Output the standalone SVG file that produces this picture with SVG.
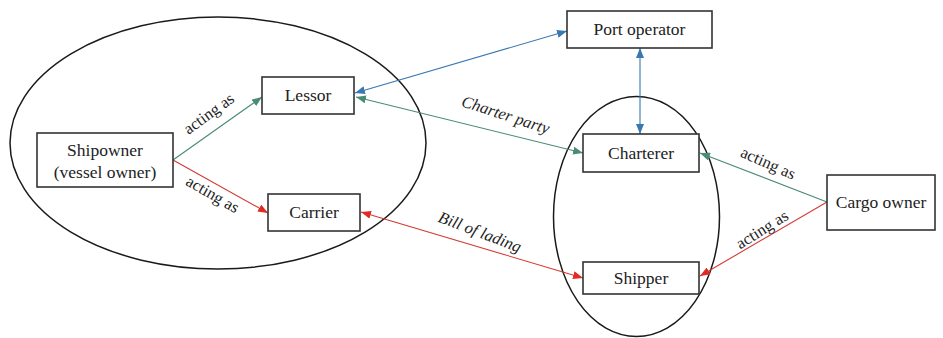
<svg xmlns="http://www.w3.org/2000/svg" width="943" height="338" viewBox="0 0 943 338">
<style>
.box{fill:#fff;stroke:#333;stroke-width:1.6}
.ell{fill:none;stroke:#1a1a1a;stroke-width:1.5}
text{font-family:'Liberation Serif','Times New Roman',Times,serif;fill:#222;text-anchor:middle}
.t{font-size:17.5px}
.l{font-size:16.5px}
.i{font-style:italic}
.g{stroke:#4a8a78;stroke-width:1.1;fill:none}
.b{stroke:#3a78b0;stroke-width:1.1;fill:none}
.r{stroke:#d63a33;stroke-width:1.1;fill:none}
</style>
<defs>
<marker id="ag" viewBox="0 0 10 8" refX="10" refY="4" markerWidth="10" markerHeight="8" markerUnits="userSpaceOnUse" orient="auto-start-reverse"><path d="M0,0L10,4L0,8z" fill="#4a8a78"/></marker>
<marker id="ab" viewBox="0 0 10 8" refX="10" refY="4" markerWidth="10" markerHeight="8" markerUnits="userSpaceOnUse" orient="auto-start-reverse"><path d="M0,0L10,4L0,8z" fill="#3a78b0"/></marker>
<marker id="ar" viewBox="0 0 10 8" refX="10" refY="4" markerWidth="10" markerHeight="8" markerUnits="userSpaceOnUse" orient="auto-start-reverse"><path d="M0,0L10,4L0,8z" fill="#e02a24"/></marker>
</defs>
<rect width="943" height="338" fill="#fff"/>
<g id="groups">
<ellipse class="ell" cx="218" cy="143" rx="208" ry="126"/>
<ellipse class="ell" cx="636.5" cy="216.5" rx="83" ry="120"/>
</g>
<g id="connectors">
<line class="g" x1="173" y1="160" x2="262" y2="97" marker-end="url(#ag)"/>
<line class="r" x1="173" y1="160" x2="268" y2="213" marker-end="url(#ar)"/>
<line class="b" x1="355" y1="93" x2="567" y2="31" marker-start="url(#ab)" marker-end="url(#ab)"/>
<line class="g" x1="356" y1="97" x2="583" y2="153" marker-start="url(#ag)" marker-end="url(#ag)"/>
<line class="b" x1="640" y1="48" x2="640" y2="134" marker-start="url(#ab)" marker-end="url(#ab)"/>
<line class="r" x1="361" y1="212" x2="583" y2="278" marker-start="url(#ar)" marker-end="url(#ar)"/>
<line class="g" x1="827" y1="202" x2="700" y2="153" marker-end="url(#ag)"/>
<line class="r" x1="827" y1="202" x2="700" y2="276" marker-end="url(#ar)"/>
<text class="l" font-family="Liberation Serif, serif" transform="translate(212,118) rotate(-36)">acting as</text>
<text class="l" font-family="Liberation Serif, serif" transform="translate(210,199) rotate(30)">acting as</text>
<text class="l i" font-family="Liberation Serif, serif" transform="translate(504,120) rotate(18)">Charter party</text>
<text class="l i" font-family="Liberation Serif, serif" transform="translate(478,237) rotate(21)">Bill of lading</text>
<text class="l" font-family="Liberation Serif, serif" transform="translate(766,168) rotate(24)">acting as</text>
<text class="l" font-family="Liberation Serif, serif" transform="translate(765,234) rotate(-32)">acting as</text>
</g>
<g id="shipowner"><rect class="box" x="37" y="133" width="136" height="54"/><text class="t" x="105" y="156">Shipowner</text><text class="t" x="105" y="178">(vessel owner)</text></g>
<g id="lessor"><rect class="box" x="262" y="77" width="92" height="37"/><text class="t" x="308" y="101">Lessor</text></g>
<g id="carrier"><rect class="box" x="268" y="194" width="92" height="37"/><text class="t" x="314" y="218">Carrier</text></g>
<g id="port-operator"><rect class="box" x="567" y="11" width="145" height="37"/><text class="t" x="639.5" y="35">Port operator</text></g>
<g id="charterer"><rect class="box" x="583" y="134" width="116" height="38"/><text class="t" x="641" y="159">Charterer</text></g>
<g id="shipper"><rect class="box" x="583" y="262" width="116" height="32"/><text class="t" x="641" y="284">Shipper</text></g>
<g id="cargo-owner"><rect class="box" x="827" y="175" width="108" height="55"/><text class="t" x="881" y="208">Cargo owner</text></g>
</svg>
